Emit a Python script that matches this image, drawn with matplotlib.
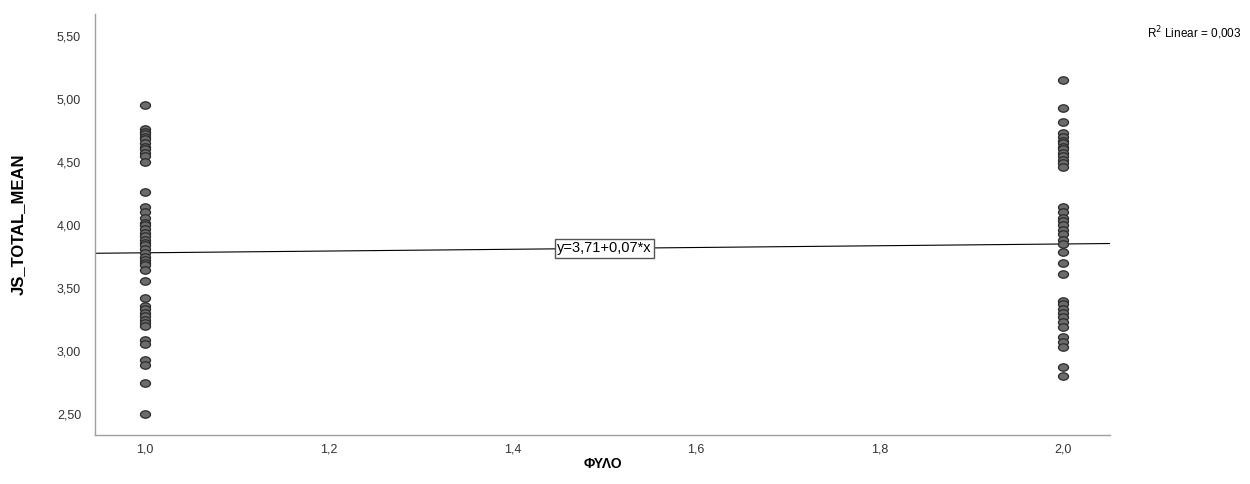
import numpy as np
import matplotlib
matplotlib.use('Agg')
import matplotlib.pyplot as plt
from matplotlib.path import Path
from matplotlib.transforms import Affine2D

plt.rcParams['font.family'] = ['Liberation Sans', 'DejaVu Sans']

# values
js_male = [4.95, 4.76, 4.74, 4.72, 4.70, 4.68, 4.65, 4.62, 4.60, 4.57, 4.55, 4.50,
           4.26, 4.14, 4.10, 4.06, 4.02, 4.00, 3.97, 3.94, 3.91, 3.88, 3.86, 3.84,
           3.81, 3.78, 3.75, 3.72, 3.70, 3.68, 3.64, 3.56, 3.42, 3.36, 3.33, 3.30,
           3.28, 3.25, 3.22, 3.20, 3.09, 3.06, 2.93, 2.89, 2.75, 2.50]
js_female = [5.15, 4.93, 4.82, 4.73, 4.70, 4.67, 4.65, 4.62, 4.60, 4.57, 4.55,
             4.52, 4.49, 4.46, 4.14, 4.10, 4.06, 4.03, 4.00, 3.96, 3.93, 3.88,
             3.85, 3.79, 3.70, 3.61, 3.40, 3.37, 3.33, 3.30, 3.27, 3.23, 3.19,
             3.11, 3.07, 3.03, 2.87, 2.80]
intercept = 3.71
slope = 0.07
r2 = '0,003'

yticks = [2.5, 3.0, 3.5, 4.0, 4.5, 5.0, 5.5]
xticks = [1.0, 1.2, 1.4, 1.6, 1.8, 2.0]

def comma(v, nd):
    return f'{v:.{nd}f}'.replace('.', ',')

ellipse = Path.unit_circle().transformed(Affine2D().scale(1.35, 1.0))

fig = plt.figure(figsize=(12.5, 4.84), dpi=100)
ax = fig.add_axes([0.076, 0.101, 0.812, 0.87])

ax.scatter(np.full(len(js_male), 1.0), js_male, marker=ellipse, s=52,
           facecolor='#6b6b6b', edgecolor='#2a2a2a', linewidths=0.9, zorder=3)
ax.scatter(np.full(len(js_female), 2.0), js_female, marker=ellipse, s=52,
           facecolor='#6b6b6b', edgecolor='#2a2a2a', linewidths=0.9, zorder=3)

xmin, xmax = 0.9455, 2.051
xs = np.array([xmin, xmax])
ax.plot(xs, intercept + slope * xs, color='black', lw=0.8, zorder=2)

ax.text(1.5, intercept + slope * 1.5, f'y={comma(intercept, 2)}+{comma(slope, 2)}*x',
        ha='center', va='center', fontsize=10.5, zorder=4,
        bbox=dict(boxstyle='square,pad=0.15', facecolor='white', edgecolor='#555555', lw=1.0))

fig.text(0.993, 0.932, r'R$^2$ Linear = ' + r2, ha='right', va='center', fontsize=8.5)

ax.set_xlim(xmin, xmax)
ax.set_ylim(2.333, 5.675)
ax.set_xticks(xticks)
ax.set_xticklabels([comma(v, 1) for v in xticks])
ax.set_yticks(yticks)
ax.set_yticklabels([comma(v, 2) for v in yticks])
ax.tick_params(length=0, labelsize=9, colors='#333333')
ax.tick_params(axis='x', pad=6)
ax.tick_params(axis='y', pad=10)

for side in ['top', 'right']:
    ax.spines[side].set_visible(False)
for side in ['left', 'bottom']:
    ax.spines[side].set_color('#a0a0a0')
    ax.spines[side].set_linewidth(1.0)

ax.set_xlabel('ΦΥΛΟ', fontsize=10, fontweight='bold', labelpad=1)
ax.set_ylabel('JS_TOTAL_MEAN', fontsize=12, fontweight='bold', labelpad=22)

fig.savefig('out.png', dpi=100)
